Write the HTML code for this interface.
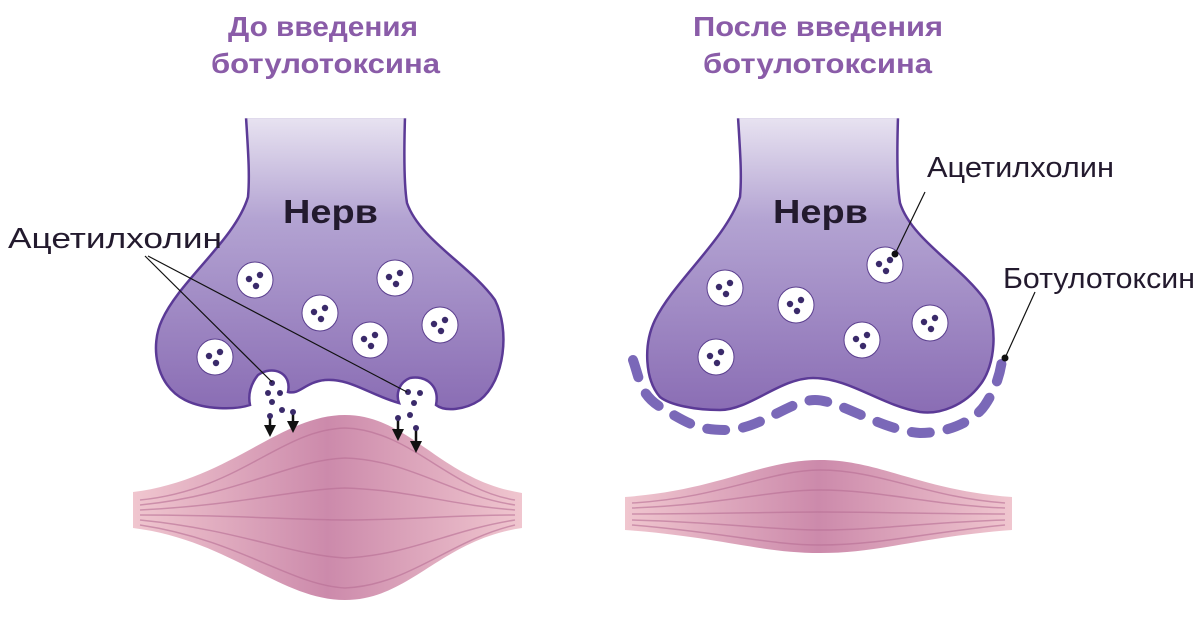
<!DOCTYPE html>
<html><head><meta charset="utf-8"><style>body{margin:0;background:#fff}svg{display:block}</style></head><body>
<svg width="1200" height="619" viewBox="0 0 1200 619" xmlns="http://www.w3.org/2000/svg" font-family="'Liberation Sans','DejaVu Sans',sans-serif">
<defs>
<linearGradient id="ng" x1="0" y1="0" x2="0" y2="1" gradientUnits="objectBoundingBox"><stop offset="0" stop-color="#e8e3f1"/><stop offset="0.35" stop-color="#b3a3d2"/><stop offset="1" stop-color="#8a6db4"/></linearGradient>
<linearGradient id="mg" x1="0" y1="0" x2="1" y2="0"><stop offset="0" stop-color="#f0c6cf"/><stop offset="0.5" stop-color="#cc8aab"/><stop offset="1" stop-color="#f0c6cf"/></linearGradient>
<g id="ves"><circle r="18" fill="#fff" stroke="#5a3e8e" stroke-width="1"/><circle cx="-6" cy="-1" r="3.2" fill="#3a2a6a"/><circle cx="5" cy="-5" r="3.2" fill="#3a2a6a"/><circle cx="1" cy="6" r="3.2" fill="#3a2a6a"/></g>
<marker id="ar" markerWidth="12" markerHeight="12" refX="5" refY="6" orient="auto" markerUnits="userSpaceOnUse"><path d="M0,0 L12,6 L0,12z" fill="#111"/></marker>
</defs>
<text x="228" y="36" textLength="190" lengthAdjust="spacingAndGlyphs" font-size="28" font-weight="bold" fill="#8a5ca8">До введения</text>
<text x="211" y="73" textLength="229" lengthAdjust="spacingAndGlyphs" font-size="28" font-weight="bold" fill="#8a5ca8">ботулотоксина</text>
<text x="693" y="36" textLength="250" lengthAdjust="spacingAndGlyphs" font-size="28" font-weight="bold" fill="#8a5ca8">После введения</text>
<text x="703" y="73" textLength="229" lengthAdjust="spacingAndGlyphs" font-size="28" font-weight="bold" fill="#8a5ca8">ботулотоксина</text>

<!-- left muscle -->
<path d="M133,492 C230,480 280,415 345,415 C410,415 440,480 522,493 L522,528 C440,540 410,600 345,600 C280,600 230,540 133,528Z" fill="url(#mg)"/>
<g fill="none" stroke="#b86f95" stroke-width="1.5" opacity="0.6">
<path d="M140,500 C240,490 280,430 345,428 C410,430 450,490 515,500"/>
<path d="M140,505 C240,495 290,460 345,458 C410,460 450,495 515,505"/>
<path d="M140,510 C240,505 290,490 345,488 C410,490 450,505 515,510"/>
<path d="M140,515 C240,515 290,520 345,520 C410,520 450,515 515,515"/>
<path d="M140,520 C240,530 290,555 345,558 C410,555 450,530 515,520"/>
<path d="M140,525 C240,540 290,585 345,588 C410,585 450,540 515,525"/>
</g>
<!-- right muscle -->
<path d="M625,497 C720,490 760,460 820,460 C880,460 920,490 1012,497 L1012,530 C920,537 880,553 820,553 C760,553 720,537 625,530Z" fill="url(#mg)"/>
<g fill="none" stroke="#b86f95" stroke-width="1.5" opacity="0.6">
<path d="M632,503 C720,498 770,470 820,470 C880,470 930,498 1005,503"/>
<path d="M632,508 C720,505 770,490 820,490 C880,490 930,505 1005,508"/>
<path d="M632,514 C720,514 770,512 820,512 C880,512 930,514 1005,514"/>
<path d="M632,520 C720,522 770,530 820,530 C880,530 930,522 1005,520"/>
<path d="M632,525 C720,532 770,545 820,545 C880,545 930,532 1005,525"/>
</g>

<!-- left nerve -->
<path d="M246,117 L405,117 C404,150 404,185 407,203 C420,240 470,265 495,300 C510,330 505,380 480,400 C465,410 445,412 436,405 C440,385 425,375 410,378 C398,383 396,395 399,403 C370,395 350,378 325,380 C305,382 300,395 288,392 C292,372 272,365 258,375 C250,385 248,395 250,405 C235,410 205,410 185,400 C155,385 150,345 162,320 C180,280 235,240 248,197 C250,175 248,150 246,117Z" fill="url(#ng)" stroke="#5b3a96" stroke-width="2.5"/>
<use href="#ves" x="255" y="280"/><use href="#ves" x="395" y="278"/><use href="#ves" x="320" y="313"/><use href="#ves" x="370" y="340"/><use href="#ves" x="440" y="325"/><use href="#ves" x="215" y="357"/>
<g fill="#3a2a6a"><circle cx="272" cy="383" r="3"/><circle cx="268" cy="393" r="3"/><circle cx="280" cy="393" r="3"/><circle cx="272" cy="402" r="3"/><circle cx="282" cy="410" r="3"/><circle cx="408" cy="392" r="3"/><circle cx="420" cy="393" r="3"/><circle cx="414" cy="403" r="3"/><circle cx="410" cy="415" r="3"/></g>
<g stroke="#111" stroke-width="2.5"><line x1="270" y1="416" x2="270" y2="430" marker-end="url(#ar)"/>
<line x1="293" y1="412" x2="293" y2="426" marker-end="url(#ar)"/>
<line x1="398" y1="418" x2="398" y2="434" marker-end="url(#ar)"/>
<line x1="416" y1="428" x2="416" y2="446" marker-end="url(#ar)"/></g>
<g fill="#3a2a6a"><circle cx="270" cy="416" r="3"/><circle cx="293" cy="412" r="3"/><circle cx="398" cy="418" r="3"/><circle cx="416" cy="428" r="3"/></g>
<text x="283" y="223" textLength="95" lengthAdjust="spacingAndGlyphs" font-size="33" font-weight="bold" fill="#231a2e">Нерв</text>
<text x="8" y="248" textLength="214" lengthAdjust="spacingAndGlyphs" font-size="29" fill="#231a2e">Ацетилхолин</text>
<g stroke="#111" stroke-width="1.2" fill="none"><path d="M145,256 L272,382"/><path d="M148,256 L407,392"/></g>

<!-- right nerve -->
<path d="M738,117 L898,117 C897,150 897,185 900,203 C912,240 960,265 985,300 C998,325 996,365 980,385 C965,405 940,415 920,412 C880,405 850,378 813,378 C780,378 750,410 720,410 C695,410 670,405 660,397 C645,380 643,345 655,320 C675,280 725,240 740,197 C742,175 740,150 738,117Z" fill="url(#ng)" stroke="#5b3a96" stroke-width="2.5"/>
<rect x="230" y="110" width="200" height="8.3" fill="#fff"/>
<rect x="725" y="110" width="190" height="8.3" fill="#fff"/>
<path d="M633,360 C640,380 640,395 662,408 C690,425 700,430 725,430 C760,430 790,400 815,400 C840,400 880,430 920,433 C950,433 975,420 985,405 C995,390 1000,375 1002,360" fill="none" stroke="#7a68b8" stroke-width="10" stroke-linecap="round" stroke-dasharray="18,18"/>
<use href="#ves" x="725" y="288"/><use href="#ves" x="796" y="305"/><use href="#ves" x="885" y="265"/><use href="#ves" x="862" y="340"/><use href="#ves" x="930" y="323"/><use href="#ves" x="716" y="357"/>
<text x="773" y="223" textLength="95" lengthAdjust="spacingAndGlyphs" font-size="33" font-weight="bold" fill="#231a2e">Нерв</text>
<text x="927" y="177" textLength="187" lengthAdjust="spacingAndGlyphs" font-size="29" fill="#231a2e">Ацетилхолин</text>
<text x="1003" y="288" textLength="192" lengthAdjust="spacingAndGlyphs" font-size="29" fill="#231a2e">Ботулотоксин</text>
<g stroke="#111" stroke-width="1.2"><line x1="925" y1="192" x2="895" y2="254"/><line x1="1035" y1="292" x2="1005" y2="358"/></g>
<circle cx="895" cy="254" r="3.5" fill="#111"/><circle cx="1005" cy="358" r="3.5" fill="#111"/>
</svg>
</body></html>
